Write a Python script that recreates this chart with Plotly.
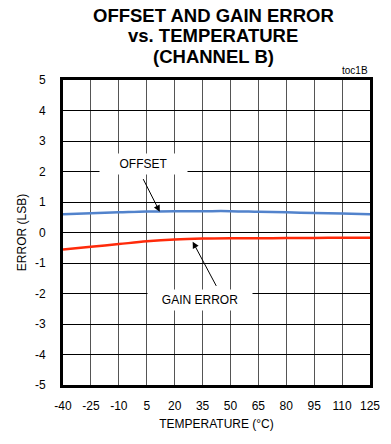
import plotly.graph_objects as go

# temperature points (deg C) and errors (LSB)
temperature = [-40, -25, -10, 5, 20, 35, 50, 65, 80, 95, 110, 125]
offset_err = [0.60, 0.63, 0.66, 0.69, 0.70, 0.70, 0.70, 0.68, 0.66, 0.64, 0.62, 0.60]
gain_err = [-0.56, -0.47, -0.38, -0.29, -0.23, -0.20, -0.19, -0.19, -0.18, -0.18, -0.17, -0.17]

x_ticks = [-40, -25, -10, 5, 20, 35, 50, 65, 80, 95, 110, 125]
y_ticks = [-5, -4, -3, -2, -1, 0, 1, 2, 3, 4, 5]

FONT = "Liberation Sans, Arial, sans-serif"

fig = go.Figure()
fig.add_trace(go.Scatter(x=temperature, y=offset_err, mode="lines", name="OFFSET",
                         line=dict(color="#5283CC", width=2.5, shape="spline")))
fig.add_trace(go.Scatter(x=temperature, y=gain_err, mode="lines", name="GAIN ERROR",
                         line=dict(color="#FF2A0A", width=2.5, shape="spline")))

# title lines
title_lines = ["OFFSET AND GAIN ERROR", "vs. TEMPERATURE", "(CHANNEL B)"]
for i, line in enumerate(title_lines):
    fig.add_annotation(text="<b>%s</b>" % line, xref="paper", yref="paper",
                       x=0.49, y=(385 - 15 - 20.5 * i) / 305, xanchor="center", yanchor="middle",
                       showarrow=False, font=dict(size=18.5, color="black", family=FONT))

fig.add_annotation(text="toc1B", xref="paper", yref="paper", x=1.0, y=(385 - 71) / 305,
                   xanchor="right", yanchor="middle", showarrow=False,
                   font=dict(size=10, color="black", family=FONT))

# labels with white boxes over the grid
fig.add_annotation(text="OFFSET", x=3, y=2.23, showarrow=False, bgcolor="white",
                   width=85, height=18, font=dict(size=12, color="black", family=FONT))
fig.add_annotation(text="GAIN ERROR", x=33.5, y=-2.2, showarrow=False, bgcolor="white",
                   width=102, height=18, font=dict(size=12, color="black", family=FONT))

# arrows
fig.add_annotation(text="", x=12, y=0.68, ax=2.7, ay=1.8, axref="x", ayref="y",
                   showarrow=True, arrowhead=2, arrowsize=1.3, arrowwidth=1, arrowcolor="black")
fig.add_annotation(text="", x=29.7, y=-0.3, ax=42.8, ay=-1.8, axref="x", ayref="y",
                   showarrow=True, arrowhead=2, arrowsize=1.3, arrowwidth=1, arrowcolor="black")

fig.update_xaxes(range=[-40, 125], tickvals=x_ticks, ticktext=[str(v) for v in x_ticks],
                 showgrid=True, gridcolor="#555555", gridwidth=1, zeroline=False,
                 showline=True, linecolor="black", linewidth=3, mirror=True,
                 ticks="", ticklabelstandoff=8,
                 title=dict(text="TEMPERATURE (°C)", standoff=8,
                            font=dict(size=12, color="black", family=FONT)),
                 tickfont=dict(size=12, color="black", family=FONT))
fig.update_yaxes(range=[-5, 5], tickvals=y_ticks, ticktext=[str(v) for v in y_ticks],
                 showgrid=True, gridcolor="black", gridwidth=1, zeroline=False,
                 showline=True, linecolor="black", linewidth=3, mirror=True,
                 ticks="", ticklabelstandoff=12,
                 title=dict(text="ERROR (LSB)", standoff=6,
                            font=dict(size=12, color="black", family=FONT)),
                 tickfont=dict(size=12, color="black", family=FONT))

fig.update_layout(width=391, height=444, margin=dict(l=63, r=11, t=80, b=59),
                  plot_bgcolor="white", paper_bgcolor="white", showlegend=False,
                  font=dict(family=FONT, color="black"))

# drop the default page margin so the figure sits at the window's top-left corner
fig.write_html("out.html", config={"displayModeBar": False},
               post_script="document.body.style.margin='0';document.body.style.overflow='hidden';")
